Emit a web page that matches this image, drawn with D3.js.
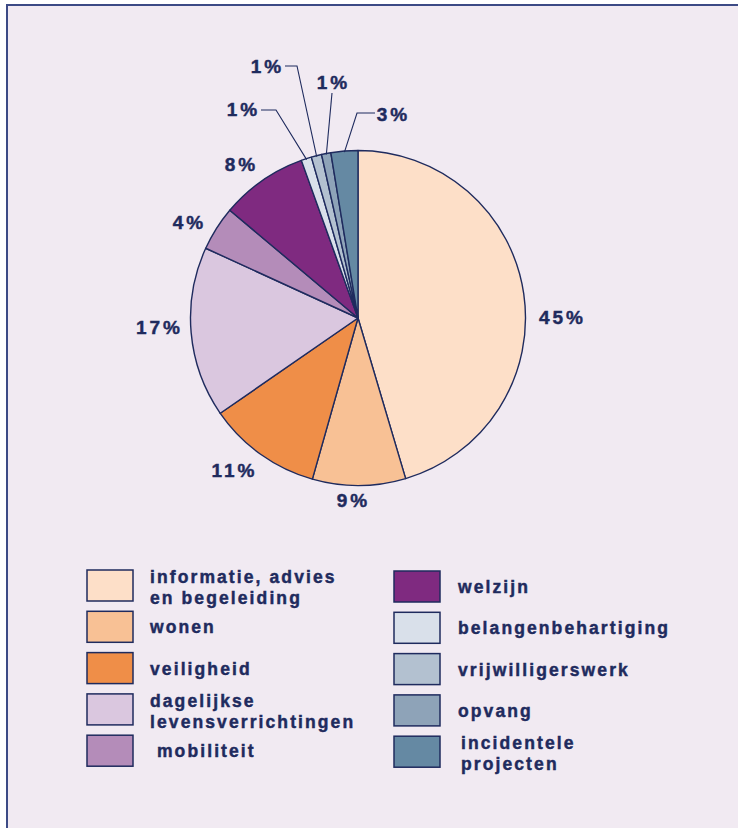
<!DOCTYPE html>
<html>
<head>
<meta charset="utf-8">
<script src="https://cdn.jsdelivr.net/npm/d3@7"></script>
<style>
  html, body { margin: 0; padding: 0; background: #ffffff; }
  svg { display: block; }
  text { font-family: "Liberation Sans", Arial, sans-serif; font-weight: bold; fill: #1f2b5e;
         stroke: #1f2b5e; stroke-width: 0.45px; }
</style>
</head>
<body>
<svg id="chart" width="738" height="828"></svg>
<script>
// ---- data ----
const categories = [
  "informatie, advies\nen begeleiding",
  "wonen",
  "veiligheid",
  "dagelijkse\nlevensverrichtingen",
  " mobiliteit",
  "welzijn",
  "belangenbehartiging",
  "vrijwilligerswerk",
  "opvang",
  "incidentele\nprojecten"
];
const values = [45.5, 9, 11, 16.5, 4.3, 8.4, 1, 1, 0.9, 2.6];
const valueLabels = ["45%", "9%", "11%", "17%", "4%", "8%", "1%", "1%", "1%", "3%"];
const colors = ["#fddfc8", "#f8c195", "#ef8e48", "#dac7df", "#b48cb9", "#7f2a80",
                "#d9e0ea", "#b3c1d0", "#8ea3b8", "#6589a3"];

// ---- layout (not data) ----
const W = 738, H = 828;
const cx = 358, cy = 318, R = 167.5;
const navy = "#1f2b5e";
// label anchor positions (centre of text)
const labelPos = [[561, 317], [352, 500], [233, 470], [158, 327], [188, 222], [240, 164],
                  [242, 109], [266, 66], [332, 82], [392, 114]];
// leader lines: elbow and end points for small slices (null = none)
const leaders = [null, null, null, null, null, null,
  [[276, 110], [261, 110]],
  [[297, 66], [285, 66]],
  [[332, 93]],
  [[357, 113], [375, 113]]
];

const svg = d3.select("#chart");

// frame
svg.append("rect").attr("x", 7).attr("y", 5).attr("width", W).attr("height", H)
  .attr("fill", "#f1eaf2").attr("stroke", "#3c4a85").attr("stroke-width", 2);

const pie = d3.pie().sort(null).value(d => d)(values);
const arc = d3.arc().innerRadius(0).outerRadius(R);

const g = svg.append("g").attr("transform", `translate(${cx},${cy})`);
g.selectAll("path").data(pie).join("path")
  .attr("d", arc)
  .attr("fill", (d, i) => colors[i])
  .attr("stroke", navy).attr("stroke-width", 1.4).attr("stroke-linejoin", "round");

// leader lines
pie.forEach((d, i) => {
  if (!leaders[i]) return;
  const a = (d.startAngle + d.endAngle) / 2;
  const start = [cx + Math.sin(a) * (R - 1), cy - Math.cos(a) * (R - 1)];
  const pts = [start].concat(leaders[i]);
  svg.append("path").attr("d", d3.line()(pts))
    .attr("fill", "none").attr("stroke", navy).attr("stroke-width", 1.1);
});

// value labels
svg.selectAll("text.val").data(valueLabels).join("text")
  .attr("class", "val")
  .attr("x", (d, i) => labelPos[i][0] + 1.5)
  .attr("y", (d, i) => labelPos[i][1])
  .attr("text-anchor", "middle")
  .attr("dominant-baseline", "central")
  .attr("font-size", 19)
  .attr("letter-spacing", 3)
  .text(d => d);

// legend
const boxW = 46, boxH = 31, rowH = 41.3;
const col = [{bx: 87, tx: 150, y0: 570}, {bx: 394, tx: 458, y0: 571}];
categories.forEach((c, i) => {
  const k = i < 5 ? 0 : 1, r = i % 5;
  const top = col[k].y0 + r * rowH;
  svg.append("rect").attr("x", col[k].bx).attr("y", top).attr("width", boxW).attr("height", boxH)
    .attr("fill", colors[i]).attr("stroke", navy).attr("stroke-width", 1.5);
  const lines = c.split("\n");
  const t = svg.append("text").attr("font-size", 17.5).attr("letter-spacing", 2.1)
    .attr("xml:space", "preserve").style("white-space", "pre");
  const base = lines.length === 1 ? top + 22 : top + 13;
  lines.forEach((ln, j) => {
    t.append("tspan").attr("x", col[k].tx + (k === 1 && lines.length > 1 ? 3 : 0))
      .attr("y", base + j * 21).text(ln);
  });
});
</script>
</body>
</html>
